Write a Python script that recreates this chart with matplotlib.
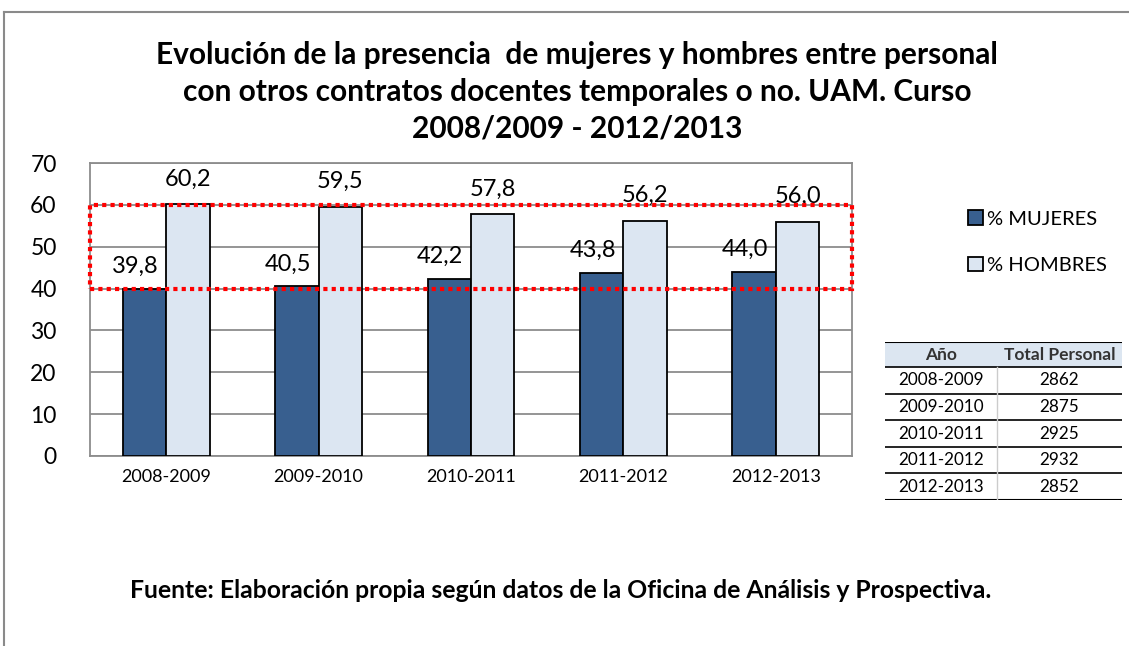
import numpy as np
import matplotlib.pyplot as plt
from matplotlib.patches import Rectangle, Patch
from matplotlib.lines import Line2D

# data
cursos = ["2008-2009", "2009-2010", "2010-2011", "2011-2012", "2012-2013"]
mujeres = [39.8, 40.5, 42.2, 43.8, 44.0]
hombres = [60.2, 59.5, 57.8, 56.2, 56.0]
total_personal = [2862, 2875, 2925, 2932, 2852]

plt.rcParams['font.family'] = ['Lato', 'DejaVu Sans']

col_muj = "#385F8F"
col_hom = "#DCE6F2"

fig = plt.figure(figsize=(11.29, 6.46), dpi=100)

# outer frame of the chart object
fig.add_artist(Line2D([4 / 1129, 1.0], [1 - 12 / 646, 1 - 12 / 646], color="#8a8a8a", lw=1.5))
fig.add_artist(Line2D([4 / 1129, 4 / 1129], [0.0, 1 - 12 / 646], color="#8a8a8a", lw=1.5))

ax = fig.add_axes([90 / 1129, 1 - 456 / 646, 762 / 1129, 293 / 646])

x = np.arange(len(cursos))
w = 0.285
ax.bar(x - w / 2, mujeres, w, color=col_muj, edgecolor="black", lw=1.3, zorder=3)
ax.bar(x + w / 2, hombres, w, color=col_hom, edgecolor="black", lw=1.3, zorder=3)

for i in range(len(cursos)):
    ax.text(x[i] - w / 2 - 0.06, mujeres[i] + 5.4, f"{mujeres[i]:.1f}".replace(".", ","),
            ha="center", va="center", fontsize=17, zorder=5)
    ax.text(x[i] + w / 2, hombres[i] + 6.0, f"{hombres[i]:.1f}".replace(".", ","),
            ha="center", va="center", fontsize=17, zorder=5)

ax.set_xlim(-0.5, len(cursos) - 0.5)
ax.set_ylim(0, 70)
ax.set_yticks(range(0, 71, 10))
ax.set_xticks(x)
ax.set_xticklabels(cursos, fontsize=13)
ax.tick_params(axis="y", labelsize=16.5, length=0, pad=24)
ax.tick_params(axis="x", length=0, pad=9)
ax.grid(axis="y", color="#8c8c8c", lw=1.3, zorder=0)
for s in ax.spines.values():
    s.set_color("#8c8c8c")
    s.set_linewidth(1.3)

# highlighted band 40-60
ax.add_patch(Rectangle((-0.5, 40), len(cursos), 20, fill=False, edgecolor="#ff0000",
                       lw=3, linestyle=(0, (1, 1)), zorder=6, clip_on=False))

fig.text(0.511, 1 - 92 / 646,
         "Evolución de la presencia  de mujeres y hombres entre personal\n"
         "con otros contratos docentes temporales o no. UAM. Curso\n"
         "2008/2009 - 2012/2013",
         ha="center", va="center", fontsize=21.5, fontweight="bold", linespacing=1.38)

handles = [Patch(facecolor=col_muj, edgecolor="black", lw=1.3),
           Patch(facecolor=col_hom, edgecolor="black", lw=1.3)]
fig.legend(handles, ["% MUJERES", "% HOMBRES"], loc="upper left",
           bbox_to_anchor=(950 / 1129, 1 - 192 / 646), frameon=False, fontsize=14.5,
           handlelength=0.75, handleheight=0.75, handletextpad=0.2, labelspacing=1.45)

# small table with totals
tab = fig.add_axes([885 / 1129, 1 - 500 / 646, 237 / 1129, 158 / 646])
tab.set_xlim(0, 237)
tab.set_ylim(158, 0)
tab.axis("off")
hdr = 25
rh = (158 - hdr) / len(cursos)
split = 112
tab.add_patch(Rectangle((0, 0), 237, hdr, facecolor="#DCE6F1", edgecolor="none"))
tab.text(split / 2, hdr / 2, "Año", ha="center", va="center", fontsize=12.5, fontweight="bold", color="#333333")
tab.text(split + (237 - split) / 2, hdr / 2, "Total Personal", ha="center", va="center",
         fontsize=12.5, fontweight="bold", color="#333333")
tab.plot([0, 237], [0, 0], color="black", lw=1.5)
for i in range(len(cursos)):
    y0 = hdr + i * rh
    tab.plot([0, 237], [y0, y0], color="black", lw=1.2)
    tab.text(split / 2, y0 + rh / 2, cursos[i], ha="center", va="center", fontsize=12.3)
    tab.text(split + (237 - split) / 2, y0 + rh / 2, str(total_personal[i]),
             ha="center", va="center", fontsize=12.3)
tab.plot([0, 237], [158, 158], color="black", lw=1.5)
tab.plot([split, split], [hdr, 158], color="#cccccc", lw=1)

fig.text(561 / 1129, 1 - 591 / 646,
         "Fuente: Elaboración propia según datos de la Oficina de Análisis y Prospectiva.",
         ha="center", va="center", fontsize=17.8, fontweight="bold")

fig.savefig("out.png", dpi=100)
